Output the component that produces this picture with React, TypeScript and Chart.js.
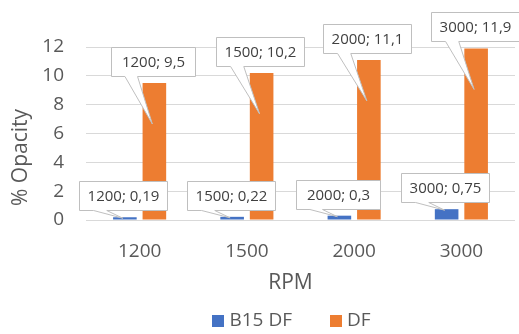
import React, { useEffect, useRef } from 'react';
import { Chart, registerables } from 'chart.js';

Chart.register(...registerables);

const categories = ['1200', '1500', '2000', '3000'];
const b15dfValues = [0.19, 0.22, 0.3, 0.75];
const dfValues = [9.5, 10.2, 11.1, 11.9];
const seriesLabels = ['B15 DF', 'DF'];
const seriesColors = ['#4472C4', '#ED7D31'];
const yTicks = [0, 2, 4, 6, 8, 10, 12];
const xTitle = 'RPM';
const yTitle = '% Opacity';

const FONT = '"Open Sans", "DejaVu Sans", sans-serif';
const TEXT = '#595959';

const fmt = (v: number) => String(v).replace('.', ',');

const calloutPlugin = {
  id: 'callouts',
  afterDatasetsDraw(chart: any, _args: any, opts: any) {
    const ctx = chart.ctx;
    const drops: number[] = opts.tipDrop || [];
    ctx.save();
    ctx.font = `15px ${FONT}`;
    chart.data.datasets.forEach((ds: any, di: number) => {
      const meta = chart.getDatasetMeta(di);
      const drop = drops[di] ?? 0;
      meta.data.forEach((el: any, i: number) => {
        const v = ds.data[i];
        const text = `${chart.data.labels[i]}; ${fmt(v)}`;
        const tw = ctx.measureText(text).width;
        const w = Math.max(Math.round(tw + 16), 84);
        const h = 29;
        const cx = el.x - 1.5;
        const left = Math.round(cx - w / 2) + 0.5;
        const bottom = Math.round(el.y - 7) + 0.5;
        const top = bottom - h;
        const right = left + w;
        const tipX = el.x - 2;
        const tipY = el.y + drop;
        ctx.beginPath();
        ctx.moveTo(left, top);
        ctx.lineTo(right, top);
        ctx.lineTo(right, bottom);
        ctx.lineTo(left + w * 0.31, bottom);
        ctx.lineTo(tipX, tipY);
        ctx.lineTo(left + w * 0.16, bottom);
        ctx.lineTo(left, bottom);
        ctx.closePath();
        ctx.fillStyle = '#ffffff';
        ctx.fill();
        ctx.strokeStyle = '#bfbfbf';
        ctx.lineWidth = 1;
        ctx.stroke();
        ctx.fillStyle = '#404040';
        ctx.textAlign = 'center';
        ctx.textBaseline = 'middle';
        ctx.fillText(text, left + w / 2, top + h / 2 + 0.5);
      });
    });
    ctx.restore();
  },
};

const titlesLegendPlugin = {
  id: 'titlesLegend',
  afterDraw(chart: any) {
    const ctx = chart.ctx;
    const ca = chart.chartArea;
    ctx.save();
    ctx.fillStyle = TEXT;
    ctx.font = `21px ${FONT}`;
    ctx.textAlign = 'center';
    ctx.textBaseline = 'middle';
    ctx.fillText(xTitle, (ca.left + ca.right) / 2 - 10, ca.bottom + 63);
    ctx.save();
    ctx.translate(21, (ca.top + ca.bottom) / 2 + 24);
    ctx.rotate(-Math.PI / 2);
    ctx.fillText(yTitle, 0, 0);
    ctx.restore();
    ctx.font = `19px ${FONT}`;
    ctx.textAlign = 'left';
    const sw = 12;
    const gap = 5;
    const spacing = 38;
    const items = chart.data.datasets.map((ds: any) => ({
      label: ds.label,
      color: ds.backgroundColor,
      w: ctx.measureText(ds.label).width,
    }));
    const total =
      items.reduce((s: number, it: any) => s + sw + gap + it.w, 0) + spacing * (items.length - 1);
    let x = (ca.left + ca.right) / 2 - 9 - total / 2;
    const y = ca.bottom + 101;
    items.forEach((it: any) => {
      ctx.fillStyle = it.color;
      ctx.fillRect(Math.round(x), Math.round(y - sw / 2), sw, sw);
      ctx.fillStyle = TEXT;
      ctx.fillText(it.label, x + sw + gap, y);
      x += sw + gap + it.w + spacing;
    });
    ctx.restore();
  },
};

export default function App() {
  const canvasRef = useRef<HTMLCanvasElement | null>(null);

  useEffect(() => {
    if (!canvasRef.current) return;
    const chart = new Chart(canvasRef.current, {
      type: 'bar',
      data: {
        labels: categories,
        datasets: [
          {
            label: seriesLabels[0],
            data: b15dfValues,
            backgroundColor: seriesColors[0],
            categoryPercentage: 0.55,
            barPercentage: 0.8,
          },
          {
            label: seriesLabels[1],
            data: dfValues,
            backgroundColor: seriesColors[1],
            categoryPercentage: 0.55,
            barPercentage: 0.8,
          },
        ],
      },
      options: {
        responsive: false,
        animation: false,
        layout: { padding: { top: 47, right: 4, left: 0, bottom: 0 } },
        plugins: {
          legend: { display: false },
          tooltip: { enabled: false },
          callouts: { tipDrop: [1, 41] },
        } as any,
        scales: {
          x: {
            grid: { display: false },
            border: { display: false },
            ticks: { color: TEXT, font: { family: FONT, size: 19 }, padding: 12 },
            afterFit: (s: any) => {
              s.height = 114;
            },
          },
          y: {
            min: 0,
            max: 12,
            grid: { color: '#d9d9d9', drawTicks: false, lineWidth: 1 },
            border: { display: false },
            ticks: { color: TEXT, font: { family: FONT, size: 19 }, padding: 22 },
            afterBuildTicks: (s: any) => {
              s.ticks = yTicks.map((v) => ({ value: v }));
            },
            afterFit: (s: any) => {
              s.width = 86;
            },
          },
        },
      },
      plugins: [calloutPlugin, titlesLegendPlugin],
    });
    return () => chart.destroy();
  }, []);

  return (
    <div style={{ position: 'absolute', left: 0, top: 0, width: 519, height: 334, background: '#fff' }}>
      <canvas ref={canvasRef} width={519} height={334} />
    </div>
  );
}
